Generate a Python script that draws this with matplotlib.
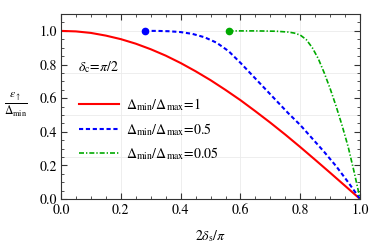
import numpy as np
import matplotlib.pyplot as plt
from matplotlib.ticker import MultipleLocator

plt.rcParams['font.family'] = ['STIXGeneral', 'DejaVu Serif']
plt.rcParams['mathtext.fontset'] = 'stix'

# Curves
x_r = np.array((0, 0.05, 0.1, 0.15, 0.2, 0.25, 0.3, 0.35, 0.4, 0.45, 0.5,
                0.55, 0.6, 0.65, 0.7, 0.75, 0.8, 0.85, 0.9, 0.95, 1.0))
y_r = np.array((1.0, 0.997, 0.988, 0.972, 0.951, 0.924, 0.891, 0.853, 0.809, 0.760, 0.707,
                0.649, 0.588, 0.522, 0.454, 0.383, 0.309, 0.233, 0.156, 0.078, 0.0))

x_b = np.array((0.28, 0.32, 0.36, 0.40, 0.44, 0.48, 0.52, 0.56, 0.60, 0.64,
                0.68, 0.72, 0.76, 0.80, 0.84, 0.88, 0.92, 0.96, 1.0))
y_b = np.array((1.0, 1.0, 0.998, 0.993, 0.982, 0.962, 0.93, 0.88, 0.81, 0.735,
                0.66, 0.585, 0.51, 0.44, 0.36, 0.28, 0.195, 0.10, 0.0))

x_g = np.array((0.56, 0.65, 0.72, 0.76, 0.78, 0.80, 0.82, 0.84, 0.86, 0.88,
                0.90, 0.92, 0.94, 0.96, 0.98, 1.0))
y_g = np.array((1.0, 1.0, 0.998, 0.993, 0.987, 0.975, 0.948, 0.90, 0.835, 0.75,
                0.655, 0.55, 0.435, 0.31, 0.16, 0.0))

labels = [r'$\Delta_{\mathrm{min}}/\Delta_{\mathrm{max}}\!=\!1$',
          r'$\Delta_{\mathrm{min}}/\Delta_{\mathrm{max}}\!=\!0.5$',
          r'$\Delta_{\mathrm{min}}/\Delta_{\mathrm{max}}\!=\!0.05$']

fig, ax = plt.subplots(figsize=(3.74, 2.47), dpi=100)
fig.subplots_adjust(left=0.163, right=0.963, bottom=0.194, top=0.943)

ax.plot(x_r, y_r, color='#ff0000', lw=1.5, label=labels[0])
ax.plot(x_b, y_b, color='#0000ff', lw=1.5, dashes=(2, 1.3), label=labels[1])
ax.plot(x_g, y_g, color='#00aa00', lw=1.2, dashes=(3, 1.2, 0.8, 1.2), label=labels[2])
ax.plot(x_b[0], y_b[0], 'o', color='#0000ff', ms=4.5)
ax.plot(x_g[0], y_g[0], 'o', color='#00aa00', ms=4.5)

ax.set_xlim(0, 1)
ax.set_ylim(0, 1.1)
ax.xaxis.set_major_locator(MultipleLocator(0.2))
ax.xaxis.set_minor_locator(MultipleLocator(0.05))
ax.yaxis.set_major_locator(MultipleLocator(0.2))
ax.yaxis.set_minor_locator(MultipleLocator(0.05))
ax.tick_params(which='both', direction='in', top=True, right=True,
               labelsize=10, color='#333333', pad=3)
ax.tick_params(which='major', length=4, width=0.8)
ax.tick_params(which='minor', length=2, width=0.6)
for s in ax.spines.values():
    s.set_color('#333333')

# faint grid
for gx in (0.2, 0.4, 0.6, 0.8):
    ax.axvline(gx, color='#ebebeb', lw=0.6, zorder=0)
for gy in (0.25, 0.5, 0.75, 1.0):
    ax.axhline(gy, color='#ebebeb', lw=0.6, zorder=0)

ax.set_xlabel(r'$2\delta_{\mathrm{s}}/\pi$', fontsize=10, labelpad=8)
ax.text(-0.15, 0.51, r'$\frac{\epsilon_\uparrow}{\Delta_{\mathrm{min}}}$',
        transform=ax.transAxes, ha='center', va='center', fontsize=12)
ax.text(0.057, 0.786, r'$\delta_{\mathrm{c}}\!=\!\pi/2$', transform=ax.transData,
        ha='left', va='center', fontsize=10)

ax.legend(loc='center left', bbox_to_anchor=(0.06, 0.378), frameon=False,
          fontsize=10, handlelength=2.9, handletextpad=0.5, labelspacing=0.55,
          borderpad=0, borderaxespad=0)

fig.savefig('out.png', dpi=100)
